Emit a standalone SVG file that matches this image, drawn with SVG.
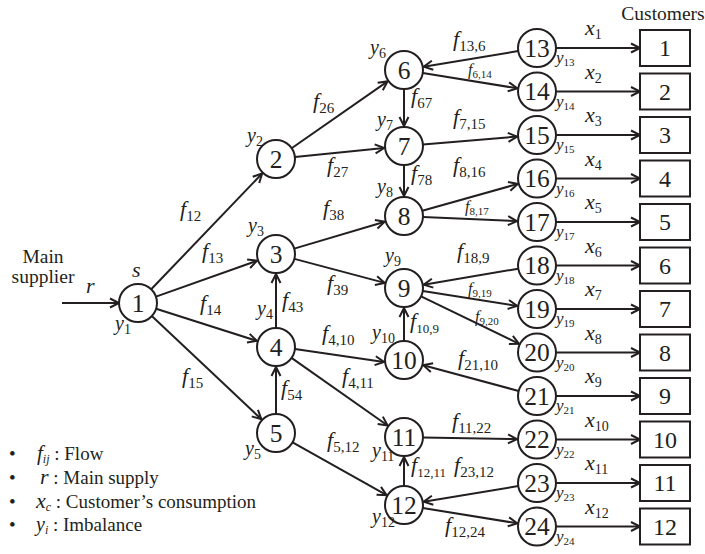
<svg xmlns="http://www.w3.org/2000/svg" width="705" height="554" viewBox="0 0 705 554" font-family="'Liberation Serif', 'Times New Roman', 'DejaVu Serif', serif">
<style>
.e{stroke:#231f20;stroke-width:2;fill:none;marker-end:url(#ah)}
.n circle{fill:#fff;stroke:#231f20;stroke-width:2}
.n text{font-size:25.5px;text-anchor:middle;fill:#231f20}
.c rect{fill:#fff;stroke:#231f20;stroke-width:2}
.c text{font-size:24px;text-anchor:middle;fill:#231f20}
text{font-family:'Liberation Serif','Times New Roman','DejaVu Serif',serif;fill:#231f20}
.f{font-style:italic;font-size:22px}
.fs{font-style:italic;font-size:16px}
.y{font-style:italic;font-size:20px}
.yr{font-style:italic;font-size:17px}
.x{font-style:italic;font-size:22px}
.s{font-style:normal;font-size:15px}
.s2{font-style:normal;font-size:13px}
.ss{font-style:normal;font-size:11px}
.sy{font-style:normal;font-size:14px}
.t{font-size:19.5px}
.lg{font-size:19px}
.it{font-style:italic}
</style>
<defs>
<marker id="ah" markerUnits="userSpaceOnUse" markerWidth="14" markerHeight="14" refX="11" refY="6" orient="auto">
<path d="M2,1.5 L11,6 L2,10.5" fill="none" stroke="#231f20" stroke-width="2"/>
</marker>
</defs>

<g id="connectors">
<line class="e" x1="62" y1="303" x2="119" y2="303"/>
<line class="e" x1="151.2" y1="289.3" x2="262.2" y2="173.4"/>
<line class="e" x1="156" y1="296.6" x2="257.1" y2="260.7"/>
<line class="e" x1="156.1" y1="308.8" x2="256.9" y2="340.9"/>
<line class="e" x1="151.8" y1="316" x2="261.4" y2="419.3"/>
<line class="e" x1="276" y1="328" x2="276" y2="274"/>
<line class="e" x1="276" y1="414" x2="276" y2="367"/>
<line class="e" x1="291.6" y1="148.2" x2="387.6" y2="81.4"/>
<line class="e" x1="294.9" y1="157.1" x2="384.1" y2="148"/>
<line class="e" x1="404" y1="89" x2="404" y2="126"/>
<line class="e" x1="404" y1="165" x2="404" y2="196"/>
<line class="e" x1="294.2" y1="248.6" x2="384.8" y2="221.7"/>
<line class="e" x1="294.4" y1="258.9" x2="384.7" y2="282.9"/>
<line class="e" x1="294.9" y1="348.9" x2="384.1" y2="362"/>
<line class="e" x1="291.5" y1="357.9" x2="387.6" y2="425.5"/>
<line class="e" x1="404" y1="341" x2="404" y2="308"/>
<line class="e" x1="292.6" y1="442.3" x2="386.6" y2="495.2"/>
<line class="e" x1="404" y1="486" x2="404" y2="457"/>
<line class="e" x1="518.2" y1="51.1" x2="423.7" y2="66.7"/>
<line class="e" x1="422.8" y1="73" x2="517.3" y2="88.3"/>
<line class="e" x1="422.9" y1="144.4" x2="517.1" y2="136.6"/>
<line class="e" x1="422.3" y1="210.8" x2="517.8" y2="183.9"/>
<line class="e" x1="423" y1="216.9" x2="517" y2="221.1"/>
<line class="e" x1="518.3" y1="268.7" x2="423.7" y2="284.7"/>
<line class="e" x1="422.8" y1="291" x2="517.2" y2="305.9"/>
<line class="e" x1="421.1" y1="296.3" x2="519" y2="343.8"/>
<line class="e" x1="518.7" y1="391" x2="423.3" y2="365.2"/>
<line class="e" x1="423" y1="437.4" x2="517" y2="439.1"/>
<line class="e" x1="518.2" y1="486.1" x2="423.7" y2="501.7"/>
<line class="e" x1="422.8" y1="508" x2="517.3" y2="523.3"/>
<line class="e" x1="556" y1="48" x2="640" y2="48"/>
<line class="e" x1="556" y1="91.5" x2="640" y2="91.5"/>
<line class="e" x1="556" y1="135" x2="640" y2="135"/>
<line class="e" x1="556" y1="178.5" x2="640" y2="178.5"/>
<line class="e" x1="556" y1="222" x2="640" y2="222"/>
<line class="e" x1="556" y1="265.5" x2="640" y2="265.5"/>
<line class="e" x1="556" y1="309" x2="640" y2="309"/>
<line class="e" x1="556" y1="352.5" x2="640" y2="352.5"/>
<line class="e" x1="556" y1="396" x2="640" y2="396"/>
<line class="e" x1="556" y1="439.5" x2="640" y2="439.5"/>
<line class="e" x1="556" y1="483" x2="640" y2="483"/>
<line class="e" x1="556" y1="526.5" x2="640" y2="526.5"/>
</g>

<g id="n1" class="n"><circle cx="138" cy="303" r="19"/><text x="138" y="311.5">1</text></g>
<g id="n2" class="n"><circle cx="276" cy="159" r="19"/><text x="276" y="167.5">2</text></g>
<g id="n3" class="n"><circle cx="276" cy="254" r="19"/><text x="276" y="262.5">3</text></g>
<g id="n4" class="n"><circle cx="276" cy="347" r="19"/><text x="276" y="355.5">4</text></g>
<g id="n5" class="n"><circle cx="276" cy="433" r="19"/><text x="276" y="441.5">5</text></g>
<g id="n6" class="n"><circle cx="404" cy="70" r="19"/><text x="404" y="78.5">6</text></g>
<g id="n7" class="n"><circle cx="404" cy="146" r="19"/><text x="404" y="154.5">7</text></g>
<g id="n8" class="n"><circle cx="404" cy="216" r="19"/><text x="404" y="224.5">8</text></g>
<g id="n9" class="n"><circle cx="404" cy="288" r="19"/><text x="404" y="296.5">9</text></g>
<g id="n10" class="n"><circle cx="404" cy="360" r="19"/><text x="404" y="368.5">10</text></g>
<g id="n11" class="n"><circle cx="404" cy="437" r="19"/><text x="404" y="445.5">11</text></g>
<g id="n12" class="n"><circle cx="404" cy="505" r="19"/><text x="404" y="513.5">12</text></g>
<g id="n13" class="n"><circle cx="537" cy="48" r="19"/><text x="537" y="56.5">13</text></g>
<g id="n14" class="n"><circle cx="537" cy="91.5" r="19"/><text x="537" y="100">14</text></g>
<g id="n15" class="n"><circle cx="537" cy="135" r="19"/><text x="537" y="143.5">15</text></g>
<g id="n16" class="n"><circle cx="537" cy="178.5" r="19"/><text x="537" y="187">16</text></g>
<g id="n17" class="n"><circle cx="537" cy="222" r="19"/><text x="537" y="230.5">17</text></g>
<g id="n18" class="n"><circle cx="537" cy="265.5" r="19"/><text x="537" y="274">18</text></g>
<g id="n19" class="n"><circle cx="537" cy="309" r="19"/><text x="537" y="317.5">19</text></g>
<g id="n20" class="n"><circle cx="537" cy="352.5" r="19"/><text x="537" y="361">20</text></g>
<g id="n21" class="n"><circle cx="537" cy="396" r="19"/><text x="537" y="404.5">21</text></g>
<g id="n22" class="n"><circle cx="537" cy="439.5" r="19"/><text x="537" y="448">22</text></g>
<g id="n23" class="n"><circle cx="537" cy="483" r="19"/><text x="537" y="491.5">23</text></g>
<g id="n24" class="n"><circle cx="537" cy="526.5" r="19"/><text x="537" y="535">24</text></g>

<g id="c1" class="c"><rect x="640" y="30" width="50" height="36"/><text x="665" y="56">1</text></g>
<g id="c2" class="c"><rect x="640" y="73.5" width="50" height="36"/><text x="665" y="99.5">2</text></g>
<g id="c3" class="c"><rect x="640" y="117" width="50" height="36"/><text x="665" y="143">3</text></g>
<g id="c4" class="c"><rect x="640" y="160.5" width="50" height="36"/><text x="665" y="186.5">4</text></g>
<g id="c5" class="c"><rect x="640" y="204" width="50" height="36"/><text x="665" y="230">5</text></g>
<g id="c6" class="c"><rect x="640" y="247.5" width="50" height="36"/><text x="665" y="273.5">6</text></g>
<g id="c7" class="c"><rect x="640" y="291" width="50" height="36"/><text x="665" y="317">7</text></g>
<g id="c8" class="c"><rect x="640" y="334.5" width="50" height="36"/><text x="665" y="360.5">8</text></g>
<g id="c9" class="c"><rect x="640" y="378" width="50" height="36"/><text x="665" y="404">9</text></g>
<g id="c10" class="c"><rect x="640" y="421.5" width="50" height="36"/><text x="665" y="447.5">10</text></g>
<g id="c11" class="c"><rect x="640" y="465" width="50" height="36"/><text x="665" y="491">11</text></g>
<g id="c12" class="c"><rect x="640" y="508.5" width="50" height="36"/><text x="665" y="534.5">12</text></g>

<g id="labels">
<text class="t" x="663" y="20" text-anchor="middle">Customers</text>
<text class="t" x="43" y="263" text-anchor="middle">Main</text>
<text class="t" x="43" y="283" text-anchor="middle">supplier</text>
<text class="f" x="86" y="293">r</text>
<text class="f" x="132" y="277">s</text>

<text class="y" x="115" y="330">y<tspan class="sy" dy="4">1</tspan></text>
<text class="y" x="247" y="142">y<tspan class="sy" dy="4">2</tspan></text>
<text class="y" x="248" y="232">y<tspan class="sy" dy="4">3</tspan></text>
<text class="y" x="257" y="315">y<tspan class="sy" dy="4">4</tspan></text>
<text class="y" x="245" y="455">y<tspan class="sy" dy="4">5</tspan></text>
<text class="y" x="370" y="54">y<tspan class="sy" dy="4">6</tspan></text>
<text class="y" x="377" y="126">y<tspan class="sy" dy="4">7</tspan></text>
<text class="y" x="377" y="193">y<tspan class="sy" dy="4">8</tspan></text>
<text class="y" x="385" y="262">y<tspan class="sy" dy="4">9</tspan></text>
<text class="y" x="372" y="339">y<tspan class="sy" dy="4">10</tspan></text>
<text class="y" x="372" y="457">y<tspan class="sy" dy="4">11</tspan></text>
<text class="y" x="372" y="523">y<tspan class="sy" dy="4">12</tspan></text>

<text class="yr" x="556" y="63">y<tspan class="ss" dy="3">13</tspan></text>
<text class="yr" x="556" y="106.5">y<tspan class="ss" dy="3">14</tspan></text>
<text class="yr" x="556" y="150">y<tspan class="ss" dy="3">15</tspan></text>
<text class="yr" x="556" y="193.5">y<tspan class="ss" dy="3">16</tspan></text>
<text class="yr" x="556" y="237">y<tspan class="ss" dy="3">17</tspan></text>
<text class="yr" x="556" y="280.5">y<tspan class="ss" dy="3">18</tspan></text>
<text class="yr" x="556" y="324">y<tspan class="ss" dy="3">19</tspan></text>
<text class="yr" x="556" y="367.5">y<tspan class="ss" dy="3">20</tspan></text>
<text class="yr" x="556" y="411">y<tspan class="ss" dy="3">21</tspan></text>
<text class="yr" x="556" y="454.5">y<tspan class="ss" dy="3">22</tspan></text>
<text class="yr" x="556" y="498">y<tspan class="ss" dy="3">23</tspan></text>
<text class="yr" x="556" y="541.5">y<tspan class="ss" dy="3">24</tspan></text>

<text class="x" x="585" y="35">x<tspan class="sy" dy="4">1</tspan></text>
<text class="x" x="585" y="78.5">x<tspan class="sy" dy="4">2</tspan></text>
<text class="x" x="585" y="122">x<tspan class="sy" dy="4">3</tspan></text>
<text class="x" x="585" y="165.5">x<tspan class="sy" dy="4">4</tspan></text>
<text class="x" x="585" y="209">x<tspan class="sy" dy="4">5</tspan></text>
<text class="x" x="585" y="252.5">x<tspan class="sy" dy="4">6</tspan></text>
<text class="x" x="585" y="296">x<tspan class="sy" dy="4">7</tspan></text>
<text class="x" x="585" y="339.5">x<tspan class="sy" dy="4">8</tspan></text>
<text class="x" x="585" y="383">x<tspan class="sy" dy="4">9</tspan></text>
<text class="x" x="585" y="426.5">x<tspan class="sy" dy="4">10</tspan></text>
<text class="x" x="585" y="470">x<tspan class="sy" dy="4">11</tspan></text>
<text class="x" x="585" y="513.5">x<tspan class="sy" dy="4">12</tspan></text>

<text class="f" x="180" y="216">f<tspan class="s" dy="5">12</tspan></text>
<text class="f" x="202" y="258">f<tspan class="s" dy="5">13</tspan></text>
<text class="f" x="200" y="310">f<tspan class="s" dy="5">14</tspan></text>
<text class="f" x="182" y="383">f<tspan class="s" dy="5">15</tspan></text>
<text class="f" x="313" y="108">f<tspan class="s" dy="5">26</tspan></text>
<text class="f" x="327" y="172">f<tspan class="s" dy="5">27</tspan></text>
<text class="f" x="411" y="103">f<tspan class="s" dy="5">67</tspan></text>
<text class="f" x="411" y="180">f<tspan class="s" dy="5">78</tspan></text>
<text class="f" x="323" y="215">f<tspan class="s" dy="5">38</tspan></text>
<text class="f" x="327" y="290">f<tspan class="s" dy="5">39</tspan></text>
<text class="f" x="282" y="307">f<tspan class="s" dy="5">43</tspan></text>
<text class="f" x="281" y="395">f<tspan class="s" dy="5">54</tspan></text>
<text class="f" x="322" y="340">f<tspan class="s" dy="5">4,10</tspan></text>
<text class="f" x="342" y="383">f<tspan class="s" dy="5">4,11</tspan></text>
<text class="f" x="327" y="447">f<tspan class="s" dy="5">5,12</tspan></text>
<text class="f" x="410" y="328">f<tspan class="s2" dy="5">10,9</tspan></text>
<text class="f" x="411" y="472">f<tspan class="s2" dy="5">12,11</tspan></text>
<text class="f" x="453" y="46">f<tspan class="s" dy="5">13,6</tspan></text>
<text class="f" x="453" y="124">f<tspan class="s" dy="5">7,15</tspan></text>
<text class="f" x="453" y="172">f<tspan class="s" dy="5">8,16</tspan></text>
<text class="f" x="457" y="258">f<tspan class="s" dy="5">18,9</tspan></text>
<text class="f" x="458" y="365">f<tspan class="s" dy="5">21,10</tspan></text>
<text class="f" x="452" y="428">f<tspan class="s" dy="5">11,22</tspan></text>
<text class="f" x="454" y="472">f<tspan class="s" dy="5">23,12</tspan></text>
<text class="f" x="445" y="532">f<tspan class="s" dy="5">12,24</tspan></text>
<text class="fs" x="468" y="75">f<tspan class="ss" dy="3">6,14</tspan></text>
<text class="fs" x="465" y="212">f<tspan class="ss" dy="3">8,17</tspan></text>
<text class="fs" x="468" y="294">f<tspan class="ss" dy="3">9,19</tspan></text>
<text class="fs" x="475" y="322">f<tspan class="ss" dy="3">9,20</tspan></text>
</g>

<g id="legend">
<text class="lg" x="9" y="460">•</text><text class="lg" x="37" y="460"><tspan class="it" font-size="21">f</tspan><tspan font-size="12" class="it" dy="3">ij</tspan><tspan dy="-3"> : Flow</tspan></text>
<text class="lg" x="9" y="484">•</text><text class="lg" x="40" y="484"><tspan class="it" font-size="22">r</tspan><tspan>  : Main supply</tspan></text>
<text class="lg" x="9" y="508">•</text><text class="lg" x="36" y="508"><tspan class="it" font-size="22">x</tspan><tspan font-size="12" class="it" dy="3">c</tspan><tspan dy="-3"> : Customer’s consumption</tspan></text>
<text class="lg" x="9" y="531">•</text><text class="lg" x="36" y="531"><tspan class="it" font-size="20">y</tspan><tspan font-size="12" class="it" dy="3">i</tspan><tspan dy="-3"> : Imbalance</tspan></text>
</g>
</svg>
